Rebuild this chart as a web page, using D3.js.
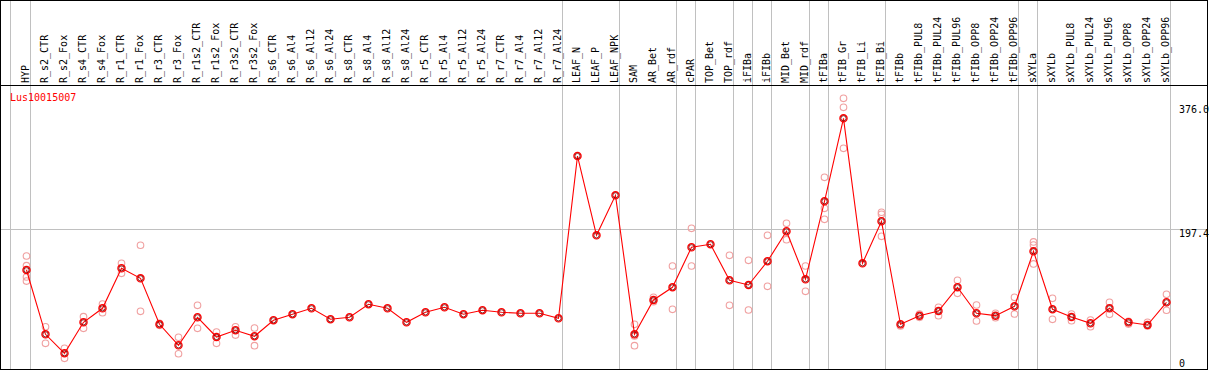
<!DOCTYPE html>
<html><head><meta charset="utf-8">
<script src="https://cdn.jsdelivr.net/npm/d3@7"></script>
<style>
body{margin:0;background:#fff}
svg{display:block}
text{font-family:"DejaVu Sans Mono",monospace;font-size:10px}
</style>
</head><body>
<svg id="c" width="1209" height="370"></svg>
<script>
const title = "Lus10015007";
const categories = ["HYP","R_s2_CTR","R_s2_Fox","R_s4_CTR","R_s4_Fox","R_r1_CTR","R_r1_Fox","R_r3_CTR","R_r3_Fox",
  "R_r1s2_CTR","R_r1s2_Fox","R_r3s2_CTR","R_r3s2_Fox","R_s6_CTR","R_s6_Al4","R_s6_Al12","R_s6_Al24",
  "R_s8_CTR","R_s8_Al4","R_s8_Al12","R_s8_Al24","R_r5_CTR","R_r5_Al4","R_r5_Al12","R_r5_Al24",
  "R_r7_CTR","R_r7_Al4","R_r7_Al12","R_r7_Al24","LEAF_N","LEAF_P","LEAF_NPK","SAM","AR_Bet","AR_rdf",
  "cPAR","TOP_Bet","TOP_rdf","iFIBa","iFIBb","MID_Bet","MID_rdf","tFIBa","tFIB_Gr","tFIB_Li","tFIB_Bi",
  "tFIBb","tFIBb_PUL8","tFIBb_PUL24","tFIBb_PUL96","tFIBb_OPP8","tFIBb_OPP24","tFIBb_OPP96",
  "sXYLa","sXYLb","sXYLb_PUL8","sXYLb_PUL24","sXYLb_PUL96","sXYLb_OPP8","sXYLb_OPP24","sXYLb_OPP96"];
const means = [135.1,37.5,8.7,55.7,77.0,137.7,122.5,52.7,20.8,63.3,33.4,43.6,34.5,58.8,67.9,77.0,60.3,
  63.3,83.1,77.0,55.7,70.9,78.5,67.9,74.0,70.9,69.4,69.4,61.8,302.5,187.8,245.9,37.5,89.6,108.9,
  169.6,174.2,119.5,112.4,148.4,193.9,121.0,237.3,356.8,145.3,208.5,
  52.7,65.8,72.9,108.9,69.4,65.8,80.0,163.5,75.5,63.8,54.2,77.0,55.7,51.6,86.1];
const replicates = [[156.4,141.7,124.5,118.4],[49.0,23.8],[16.2,1.1],[64.2,46.6],[83.5,70.3],[145.3,130.1],
  [172.7,72.4],[54.2,51.2],[33.0,8.0],[81.5,46.6],[41.0,23.8],[49.0,36.4],[47.1,20.2],
  [],[],[],[],[],[],[],[],[],[],[],[],[],[],[],[],[],[],[],
  [52.7,34.9,20.2],[93.7,87.0],[141.2,75.5],[198.4,141.2],[],[157.5,81.5],[149.9,74.4],[187.8,110.4],
  [205.6,181.2],[141.2,102.8],[271.9,227.2,211.4],[385.6,372.7,313.6],[],[221.5,218.6,186.3],
  [50.1],[68.3,63.3],[78.5,65.8],[119.5,99.8],[82.0,57.7],[69.4,62.7],[93.7,68.3],
  [177.7,173.1,144.3],[92.2,60.3],[68.3,58.2],[59.2,49.0],[86.1,67.9],[57.2,53.1],[55.7,50.1],[98.2,74.0]];
const yTicks = [0, 197.4, 376];
const groupEnds = ["HYP","R_r7_Al24","LEAF_NPK","AR_rdf","cPAR","TOP_rdf","iFIBa","iFIBb","MID_rdf",
  "tFIBa","tFIB_Bi","tFIBb_OPP96","sXYLa","sXYLb_OPP96"];

const svg = d3.select("#c");
const W = 1209, H = 370;
const x = d3.scalePoint().domain(categories).range([26.5, 26.5 + 19 * (categories.length - 1)]);
const y = d3.scaleLinear().domain([0, 197.4, 376]).range([359, 229, 105]);
const px = v => Math.floor(v) + 0.5;

svg.append("defs").append("clipPath").attr("id", "clip")
  .append("rect").attr("x", 0).attr("y", 0).attr("width", 1207).attr("height", H);

// gray separators
const grid = svg.append("g").attr("stroke", "#c0c0c0").attr("stroke-width", 1).attr("shape-rendering", "crispEdges");
grid.append("line").attr("x1", 10.5).attr("x2", 10.5).attr("y1", 0).attr("y2", H);
grid.selectAll("line.sep").data(groupEnds).join("line").attr("class", "sep")
  .attr("x1", d => px(x(d) + 3.6)).attr("x2", d => px(x(d) + 3.6)).attr("y1", 0).attr("y2", H);
grid.append("line").attr("x1", 0).attr("x2", 1207).attr("y1", px(y(197.4))).attr("y2", px(y(197.4)));

// column labels
svg.append("g").selectAll("text").data(categories).join("text")
  .attr("transform", d => `translate(${x(d) + 2.6},83) rotate(-90)`)
  .attr("text-anchor", "start").attr("fill", "#000").text(d => d);

// title
svg.append("text").attr("x", 10).attr("y", 100.5).attr("fill", "#ff0000").text(title);

// y axis
const axis = svg.append("g").attr("clip-path", "url(#clip)")
  .attr("transform", "translate(1179,0)")
  .call(d3.axisRight(y).tickValues(yTicks).tickSize(0).tickPadding(0)
    .tickFormat(d => d === 0 ? "0" : d.toFixed(1)));
axis.select(".domain").remove();
axis.selectAll("text").attr("dy", "0.73em").attr("x", 0)
  .attr("font-family", "DejaVu Sans Mono").attr("font-size", 10).attr("fill", "#000");

// replicates
const reps = [];
replicates.forEach((arr, i) => arr.forEach(v => reps.push({c: categories[i], v})));
svg.append("g").selectAll("circle").data(reps).join("circle")
  .attr("cx", d => x(d.c)).attr("cy", d => y(d.v)).attr("r", 3.3)
  .attr("fill", "none").attr("stroke", "#f0a0a0").attr("stroke-width", 1.1);

// mean line
svg.append("path").datum(means)
  .attr("d", d3.line().x((d, i) => x(categories[i])).y(d => y(d)))
  .attr("fill", "none").attr("stroke", "#ff0000").attr("stroke-width", 1.1);

// mean markers
const mg = svg.append("g").selectAll("g").data(means).join("g")
  .attr("transform", (d, i) => `translate(${x(categories[i])},${y(d)})`);
mg.append("circle").attr("r", 3.6).attr("fill", "none").attr("stroke", "#ff0000").attr("stroke-width", 1.3);
mg.append("circle").attr("r", 2.6).attr("fill", "none").attr("stroke", "#700000").attr("stroke-width", 0.8);

// black frame
const fr = svg.append("g").attr("stroke", "#000").attr("stroke-width", 1).attr("shape-rendering", "crispEdges");
fr.append("line").attr("x1", 0).attr("x2", 1208).attr("y1", 0.5).attr("y2", 0.5);
fr.append("line").attr("x1", 0).attr("x2", 1208).attr("y1", 85.5).attr("y2", 85.5);
fr.append("line").attr("x1", 0).attr("x2", 1208).attr("y1", 369.5).attr("y2", 369.5);
fr.append("line").attr("x1", 0.5).attr("x2", 0.5).attr("y1", 0).attr("y2", H);
fr.append("line").attr("x1", 1207.5).attr("x2", 1207.5).attr("y1", 0).attr("y2", H);
</script>
</body></html>
